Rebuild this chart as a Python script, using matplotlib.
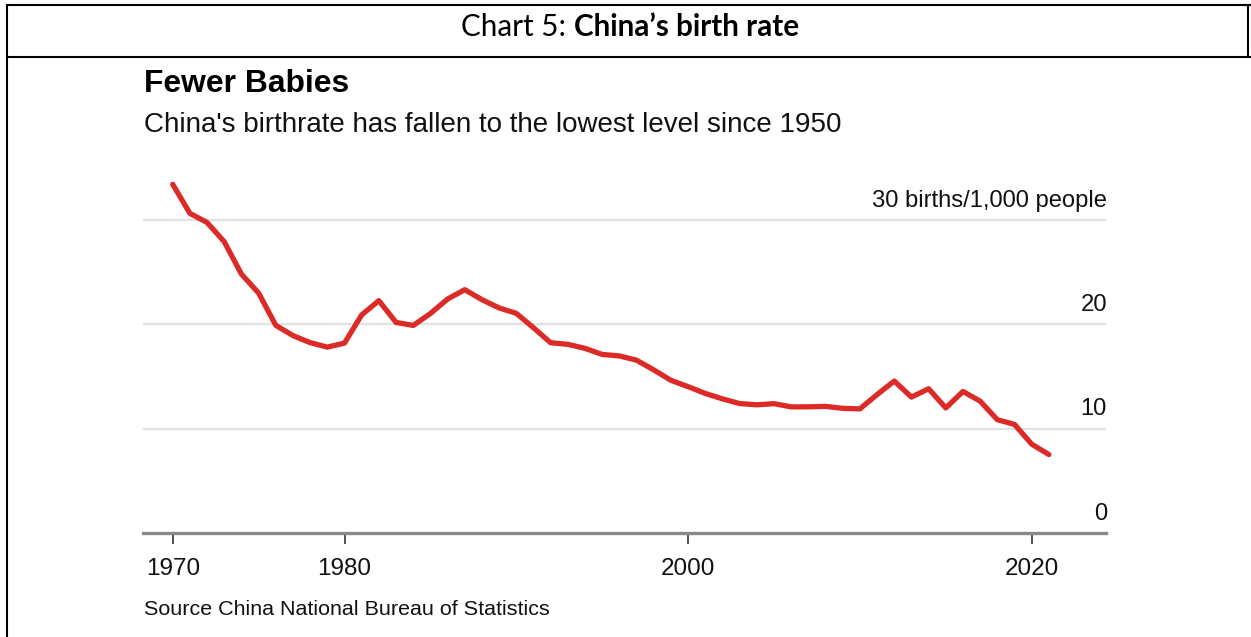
import matplotlib
matplotlib.use("Agg")
import matplotlib.pyplot as plt
from matplotlib.lines import Line2D

# China's crude birth rate, births per 1,000 people (National Bureau of Statistics)
years = list(range(1970, 2022))
birth_rate = [
    33.43, 30.65, 29.77, 27.93, 24.82, 23.01, 19.91, 18.93, 18.25, 17.82,
    18.21, 20.91, 22.28, 20.19, 19.90, 21.04, 22.43, 23.33, 22.37, 21.58,
    21.06, 19.68, 18.24, 18.09, 17.70, 17.12, 16.98, 16.57, 15.64, 14.64,
    14.03, 13.38, 12.86, 12.41, 12.29, 12.40, 12.09, 12.10, 12.14, 11.95,
    11.90, 13.27, 14.57, 13.03, 13.83, 11.99, 13.57, 12.64, 10.86, 10.41,
    8.52, 7.52,
]
x_ticks = [1970, 1980, 2000, 2020]
y_ticks = [0, 10, 20, 30]
y_tick_labels = ["0", "10", "20", "30 births/1,000 people"]

header_plain = "Chart 5: "
header_bold = "China\u2019s birth rate"
title = "Fewer Babies"
subtitle = "China's birthrate has fallen to the lowest level since 1950"
source = "Source China National Bureau of Statistics"

W, H = 1251, 637
fig = plt.figure(figsize=(W / 100, H / 100), dpi=100)
fig.patch.set_facecolor("white")


def fx(px):
    return px / W


def fy(py):
    return 1 - py / H


renderer = fig.canvas.get_renderer()


def width_px(t):
    return t.get_window_extent(renderer).width


def fit_width(t, target):
    for _ in range(3):
        t.set_fontsize(t.get_fontsize() * target / width_px(t))


# ---- document frame around the chart ----
frame = dict(color="black", lw=1.5, solid_capstyle="butt")
fig.add_artist(Line2D([fx(7), fx(7)], [fy(4), fy(637)], **frame))
fig.add_artist(Line2D([fx(6), fx(1251)], [fy(5), fy(5)], **frame))
fig.add_artist(Line2D([fx(6), fx(1251)], [fy(56.5), fy(56.5)], **frame))
fig.add_artist(Line2D([fx(1247.5), fx(1247.5)], [fy(4), fy(57)], **frame))

# ---- header: plain + bold run, centred in the box ----
hfont = "Lato"
h1 = fig.text(fx(461), fy(36), header_plain, fontsize=16, family=hfont,
              va="baseline", ha="left")
h2 = fig.text(fx(461), fy(36), header_bold, fontsize=16, family=hfont,
              fontweight="bold", va="baseline", ha="left")
for _ in range(3):
    total = width_px(h1) + width_px(h2)
    s = h1.get_fontsize() * 338 / total
    h1.set_fontsize(s)
    h2.set_fontsize(s)
w1 = width_px(h1)
h2.set_x(fx(461 + w1))

# ---- chart titles ----
cfont = "Liberation Sans"
ink = "#111111"
t1 = fig.text(fx(144), fy(92), title, fontsize=22, family=cfont,
              fontweight="bold", va="baseline", ha="left", color="black")
fit_width(t1, 205)
t2 = fig.text(fx(144), fy(132), subtitle, fontsize=18, family=cfont,
              va="baseline", ha="left", color=ink)
fit_width(t2, 699)
t3 = fig.text(fx(144), fy(615), source, fontsize=12, family=cfont,
              va="baseline", ha="left", color=ink)
fit_width(t3, 405)

# ---- plot area ----
px_per_year = 17.18
px_per_unit = 10.43
left_px, right_px, base_px = 143, 1106, 533
top_px = 168
ax = fig.add_axes([fx(left_px), fy(base_px), fx(right_px) - fx(left_px),
                   fy(top_px) - fy(base_px)])
x_min = 1970 - (172.7 - left_px) / px_per_year
x_max = x_min + (right_px - left_px) / px_per_year
ax.set_xlim(x_min, x_max)
ax.set_ylim(0, (base_px - top_px) / px_per_unit)

for v in y_ticks[1:]:
    ax.axhline(v, color="#e2e2e2", lw=1.6, zorder=1)
ax.axhline(0, color="#8a8a8a", lw=2.4, zorder=2, clip_on=False)

ax.plot(years, birth_rate, color="#dc2a26", lw=3.8, solid_capstyle="round",
        solid_joinstyle="round", clip_on=False, zorder=3)

label_offset = 13.5 / px_per_unit
ylab_texts = []
for v, lab in zip(y_ticks, y_tick_labels):
    ylab_texts.append(ax.text(x_max + 0.05, v + label_offset, lab, ha="right",
                              va="baseline", family=cfont, fontsize=17,
                              color=ink))
fit_width(ylab_texts[-1], 235)
for t in ylab_texts[:-1]:
    t.set_fontsize(ylab_texts[-1].get_fontsize())

for s in ax.spines.values():
    s.set_visible(False)
ax.set_yticks([])
ax.set_xticks(x_ticks)
ax.set_xticklabels([str(x) for x in x_ticks], family=cfont, fontsize=17.5,
                   color=ink)
ax.tick_params(axis="x", length=8, width=1.2, color="#333333", pad=10)
ax.set_facecolor("none")

fig.savefig("out.png", dpi=100, facecolor="white")
